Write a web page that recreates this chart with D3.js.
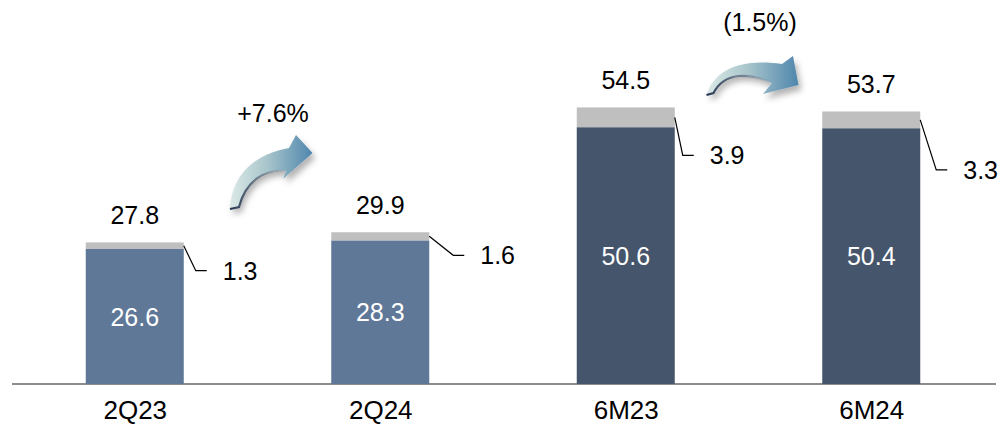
<!DOCTYPE html>
<html>
<head>
<meta charset="utf-8">
<script src="https://cdn.jsdelivr.net/npm/d3@7"></script>
<style>
  html, body { margin: 0; padding: 0; background: #ffffff; }
  svg { display: block; font-family: Arial, "Liberation Sans", sans-serif; }
</style>
</head>
<body>
<svg id="chart" width="1008" height="432"></svg>
<script>
// ---- data ----
const categories = ["2Q23", "2Q24", "6M23", "6M24"];
const baseValues = [26.6, 28.3, 50.6, 50.4];
const otherValues = [1.3, 1.6, 3.9, 3.3];
const totalLabels = ["27.8", "29.9", "54.5", "53.7"];
const changeLabels = ["+7.6%", "(1.5%)"];
const changePairs = [[0, 1], [2, 3]];

// ---- layout (not data) ----
const W = 1008, H = 432;
const baseY = 384;
const FS = 25;
const barColors = ["#5f7898", "#5f7898", "#45556b", "#45556b"];
const otherColor = "#bfbfbf";
const calloutOffsets = [{dx: 12, dy: 25}, {dx: 24, dy: 19}, {dx: 8, dy: 38}, {dx: 16, dy: 50}];

const svg = d3.select("#chart");

const x = d3.scalePoint().domain(categories).range([12, 994]).padding(0.5);
const barW = 98;
const y = d3.scaleLinear().domain([0, 60]).range([baseY, baseY - 60 * 5.075]);

// defs
const defs = svg.append("defs");
const grad = defs.append("linearGradient").attr("id", "arrowGrad")
  .attr("x1", "0%").attr("y1", "0%").attr("x2", "100%").attr("y2", "0%");
grad.append("stop").attr("offset", "0%").attr("stop-color", "#dbe9e6");
grad.append("stop").attr("offset", "45%").attr("stop-color", "#a8c5cb");
grad.append("stop").attr("offset", "100%").attr("stop-color", "#4f86ad");
const edgeGrad = defs.append("linearGradient").attr("id", "edgeGrad")
  .attr("x1", "0%").attr("y1", "0%").attr("x2", "100%").attr("y2", "0%");
edgeGrad.append("stop").attr("offset", "0%").attr("stop-color", "#24344f").attr("stop-opacity", 1);
edgeGrad.append("stop").attr("offset", "60%").attr("stop-color", "#3b4d68").attr("stop-opacity", 0.5);
edgeGrad.append("stop").attr("offset", "100%").attr("stop-color", "#3b4d68").attr("stop-opacity", 0);
const filt = defs.append("filter").attr("id", "shadow")
  .attr("x", "-30%").attr("y", "-30%").attr("width", "160%").attr("height", "170%");
filt.append("feDropShadow").attr("dx", 3).attr("dy", 5).attr("stdDeviation", 3)
  .attr("flood-color", "#000").attr("flood-opacity", 0.3);

// axis line
svg.append("line")
  .attr("x1", 12).attr("x2", 996)
  .attr("y1", baseY).attr("y2", baseY)
  .attr("stroke", "#8c8c8c").attr("stroke-width", 2);

const axis = d3.axisBottom(x).tickSize(0).tickPadding(0);
const axisG = svg.append("g").attr("transform", `translate(0,${baseY})`).call(axis);
axisG.select(".domain").remove();
axisG.selectAll("text")
  .attr("y", 35).attr("dy", 0)
  .attr("font-size", 26).attr("fill", "#000")
  .attr("font-family", "Arial, 'Liberation Sans', sans-serif");

const stacked = categories.map((c, i) => ({
  cat: c, i,
  base: baseValues[i], other: otherValues[i],
  total: baseValues[i] + otherValues[i]
}));

// base bars
svg.append("g").selectAll("rect").data(stacked).join("rect")
  .attr("x", d => x(d.cat) - barW / 2)
  .attr("width", barW)
  .attr("y", d => y(d.base))
  .attr("height", d => y(0) - y(d.base))
  .attr("fill", (d, i) => barColors[i]);

// other bars
svg.append("g").selectAll("rect").data(stacked).join("rect")
  .attr("x", d => x(d.cat) - barW / 2)
  .attr("width", barW)
  .attr("y", d => y(d.total))
  .attr("height", d => y(d.base) - y(d.total))
  .attr("fill", otherColor);

// inner labels
svg.append("g").selectAll("text").data(stacked).join("text")
  .attr("x", d => x(d.cat))
  .attr("y", d => (y(0) + y(d.base)) / 2 + 9)
  .attr("text-anchor", "middle")
  .attr("font-size", FS).attr("fill", "#ffffff")
  .text(d => d.base.toFixed(1));

// total labels
svg.append("g").selectAll("text").data(stacked).join("text")
  .attr("x", d => x(d.cat))
  .attr("y", d => y(d.total) - 18)
  .attr("text-anchor", "middle")
  .attr("font-size", FS).attr("fill", "#000")
  .text((d, i) => totalLabels[i]);

// callouts
const cg = svg.append("g");
stacked.forEach((d, i) => {
  const rx = x(d.cat) + barW / 2;
  const sy = (y(d.total) + y(d.base)) / 2;
  const o = calloutOffsets[i];
  const ex = rx + o.dx, ey = sy + o.dy;
  cg.append("path")
    .attr("d", `M${rx},${sy} L${ex},${ey} L${ex + 11},${ey}`)
    .attr("fill", "none").attr("stroke", "#000").attr("stroke-width", 1.2);
  cg.append("text")
    .attr("x", ex + 27).attr("y", ey + 9)
    .attr("font-size", FS).attr("fill", "#000")
    .text(d.other.toFixed(1));
});

// change arrows (shapes relative to the midpoint between the pair of bars)
const arrowShapes = [
  {body: "M-27.5,209 C-25.5,176 -5.5,155 31.5,148 L38.5,135 L55,153 L25.5,179 L28.5,171 C7.5,169 -11.5,180 -18.5,207 Z",
   edge: "M28.5,171 C7.5,169 -11.5,180 -18.5,207 L-27.5,209",
   label: {dx: 15.5, y: 122}},
  {body: "M-42,95 C-34,70 -8.5,58 33.5,64 L44.5,56 L50,85 L14.5,94 L23.5,83 C1.5,73 -23.5,71 -35,93 Z",
   edge: "M23.5,83 C1.5,73 -23.5,71 -35,93 L-42,95",
   label: {dx: 11.5, y: 31}}
];
changePairs.forEach((p, k) => {
  const mid = (x(categories[p[0]]) + x(categories[p[1]])) / 2;
  const g = svg.append("g").attr("transform", `translate(${mid},0)`);
  const s = arrowShapes[k];
  g.append("path").attr("d", s.body).attr("fill", "url(#arrowGrad)").attr("filter", "url(#shadow)");
  g.append("path").attr("d", s.edge).attr("fill", "none")
    .attr("stroke", "url(#edgeGrad)").attr("stroke-width", 2.2);
  g.append("text")
    .attr("x", s.label.dx).attr("y", s.label.y)
    .attr("text-anchor", "middle")
    .attr("font-size", FS).attr("fill", "#000")
    .text(changeLabels[k]);
});
</script>
</body>
</html>
